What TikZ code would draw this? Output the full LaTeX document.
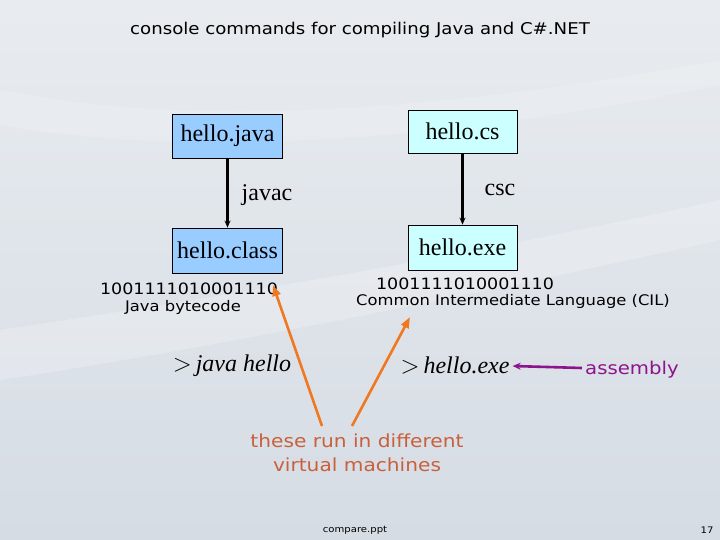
\documentclass[tikz,border=0pt]{standalone}
\usepackage{fontspec}
\setmainfont{Liberation Serif}
\setsansfont{DejaVu Sans}[FakeStretch=1.12]
\usetikzlibrary{arrows.meta}
\definecolor{bgtop}{RGB}{232,236,240}
\definecolor{bgbot}{RGB}{214,220,228}
\definecolor{javafill}{RGB}{153,204,255}
\definecolor{csfill}{RGB}{204,255,255}
\definecolor{orangearrow}{RGB}{240,120,32}
\definecolor{orangetext}{RGB}{200,96,60}
\definecolor{purplearrow}{RGB}{140,20,140}
\tikzset{
  filebox/.style={draw=black, line width=0.8pt, inner sep=0pt, font=\fontsize{24}{27}\selectfont},
  cmdtext/.style={font=\fontsize{24}{27}\selectfont, inner sep=0pt},
  binline/.style={font=\sffamily\fontsize{15.6}{18}\selectfont, inner sep=0pt},
  subline/.style={font=\sffamily\fontsize{14.6}{17}\selectfont, inner sep=0pt},
  flow/.style={-{Stealth[length=7pt,width=6pt]}, line width=2.4pt, black},
  vmarrow/.style={-{Triangle[length=11pt,width=8pt]}, line width=2.6pt, orangearrow},
}
\begin{document}
\begin{tikzpicture}[x=1pt,y=-1pt]
\useasboundingbox (0,0) rectangle (720,540);
\shade[top color=bgtop, bottom color=bgbot] (0,0) rectangle (720,540);
\fill[white, opacity=0.22] (0,330) .. controls (200,300) and (450,260) .. (720,200) -- (720,240) .. controls (450,300) and (200,350) .. (0,380) -- cycle;
\fill[white, opacity=0.15] (0,90) .. controls (200,130) and (450,110) .. (720,60) -- (720,85) .. controls (450,140) and (200,160) .. (0,125) -- cycle;

\node[font=\sffamily\fontsize{16.2}{19}\selectfont, inner sep=0pt] (title) at (360,30) {console commands for compiling Java and C\#.NET};

\node[filebox, fill=javafill, minimum width=110pt, minimum height=44pt] (java) at (227.5,136) {hello.java};
\node[filebox, fill=javafill, minimum width=110pt, minimum height=45pt] (class) at (227.5,250.5) {hello.class};
\node[filebox, fill=csfill, minimum width=109pt, minimum height=43pt] (cs) at (462.5,131.5) {hello.cs};
\node[filebox, fill=csfill, minimum width=109pt, minimum height=45pt] (exe) at (462.5,247.5) {hello.exe};

\draw[flow] (java) -- (class);
\draw[flow] (cs) -- (exe);
\node[cmdtext] (javac) at (267,195) {javac};
\node[cmdtext] (csc) at (500,190) {csc};

\node[binline] (binj) at (189,289) {1001111010001110};
\node[subline] (jbc) at (183,307) {Java bytecode};
\node[binline] (binc) at (465,284) {1001111010001110};
\node[subline] (cil) at (513,301) {Common Intermediate Language (CIL)};

\node[cmdtext] (runj) at (232,366) {$>$\,\textit{java hello}};
\node[cmdtext] (rune) at (455,366) {$>$\,\textit{hello.exe}};
\node[font=\sffamily\fontsize{17.6}{20}\selectfont, text=purplearrow, inner sep=0pt] (asm) at (632,370) {assembly};
\draw[-{Stealth[length=8pt,width=7pt]}, line width=2.6pt, purplearrow] (asm.west) ++(-3,-2) coordinate (asmfrom) (asmfrom) -- ([xshift=3pt]rune.east);

\node[font=\sffamily\fontsize{18}{24}\selectfont, text=orangetext, align=center, inner sep=0pt] (vm) at (357,453) {these run in different\\virtual machines};
\coordinate (vmleft) at (322,426);
\coordinate (vmright) at (352,426);
\coordinate (tipj) at (273,285);
\coordinate (tipc) at (410,317);
\draw[vmarrow] (vmleft) -- (tipj);
\draw[vmarrow] (vmright) -- (tipc);

\node[font=\sffamily\fontsize{9}{10}\selectfont, inner sep=0pt] (file) at (355,530) {compare.ppt};
\node[font=\sffamily\fontsize{9}{10}\selectfont, inner sep=0pt] (page) at (707,530) {17};
\end{tikzpicture}
\end{document}
